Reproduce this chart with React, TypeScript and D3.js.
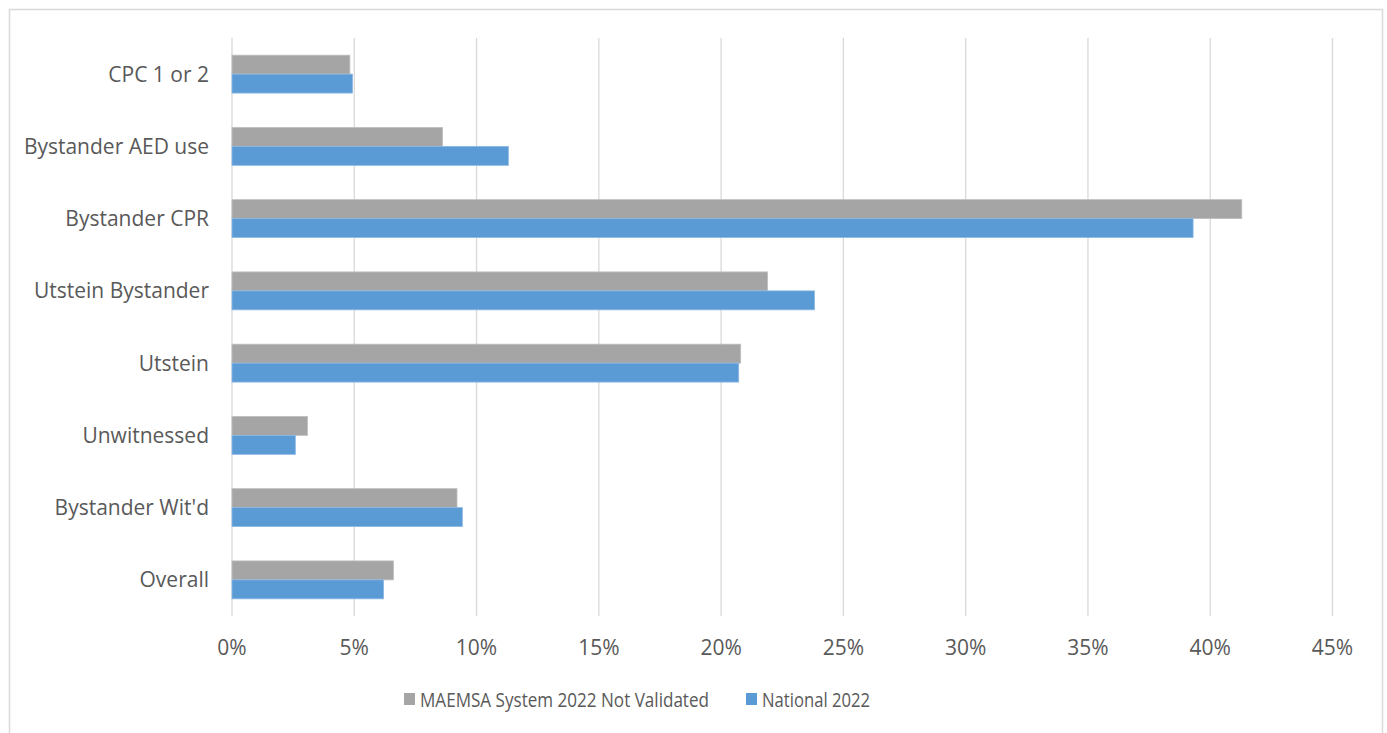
import React from "react";
import * as d3 from "d3";

const categories = ["CPC 1 or 2", "Bystander AED use", "Bystander CPR", "Utstein Bystander", "Utstein", "Unwitnessed", "Bystander Wit'd", "Overall"];
const seriesNames = ["MAEMSA System 2022 Not Validated", "National 2022"];
const maemsa = [4.82, 8.61, 41.29, 21.9, 20.8, 3.09, 9.2, 6.6];
const national = [4.93, 11.3, 39.3, 23.82, 20.72, 2.59, 9.42, 6.2];
const xTicks = [0, 5, 10, 15, 20, 25, 30, 35, 40, 45];
const colors = ["#A5A5A5", "#5B9BD5"];
const strokeColors = ["#BFBFBF", "#8DB8E3"];

export default function App() {
  const W = 1387, H = 733;
  const left = 232, right = 1332.5, top = 38, bottom = 616;
  const x = d3.scaleLinear().domain([0, 45]).range([left, right]);
  const y = d3.scaleBand<string>().domain(categories).range([top, bottom]).paddingInner(0.475).paddingOuter(0.2375);
  const sub = d3.scaleBand<string>().domain(seriesNames).range([0, y.bandwidth()]);
  const values = [maemsa, national];
  const font = "'Open Sans', sans-serif";
  const txt = "#595959";

  return (
    <svg width={W} height={H} style={{ position: "absolute", left: 0, top: 0 }} fontFamily={font}>
      <rect x={0} y={0} width={W} height={H} fill="#fff" />
      <rect x={9.5} y={9.5} width={1373} height={740} fill="#fff" stroke="#D9D9D9" strokeWidth={1.5} />
      {xTicks.map((t) => (
        <line key={t} x1={x(t)} x2={x(t)} y1={top} y2={bottom} stroke="#D9D9D9" strokeWidth={1.3} />
      ))}
      {categories.map((c, i) => (
        <g key={c}>
          {seriesNames.map((s, k) => (
            <rect
              key={s}
              x={x(0)}
              y={(y(c) as number) + (sub(s) as number)}
              width={x(values[k][i]) - x(0)}
              height={sub.bandwidth()}
              fill={colors[k]}
              stroke={strokeColors[k]}
              strokeWidth={0.8}
            />
          ))}
          <text x={209} y={(y(c) as number) + y.bandwidth() / 2} dy="0.36em" textAnchor="end" fontSize={21} fill={txt}>
            {c}
          </text>
        </g>
      ))}
      {xTicks.map((t) => (
        <text key={t} x={x(t)} y={655} textAnchor="middle" fontSize={21} fill={txt}>
          {t + "%"}
        </text>
      ))}
      {(() => {
        const items = [
          { name: seriesNames[0], sx: 404, w: 289 },
          { name: seriesNames[1], sx: 746, w: 108 },
        ];
        return items.map((it, k) => (
          <g key={it.name}>
            <rect x={it.sx} y={693} width={11} height={12} fill={colors[k]} />
            <text x={it.sx + 16} y={707} fontSize={20} fill={txt} textLength={it.w} lengthAdjust="spacingAndGlyphs">
              {it.name}
            </text>
          </g>
        ));
      })()}
    </svg>
  );
}
